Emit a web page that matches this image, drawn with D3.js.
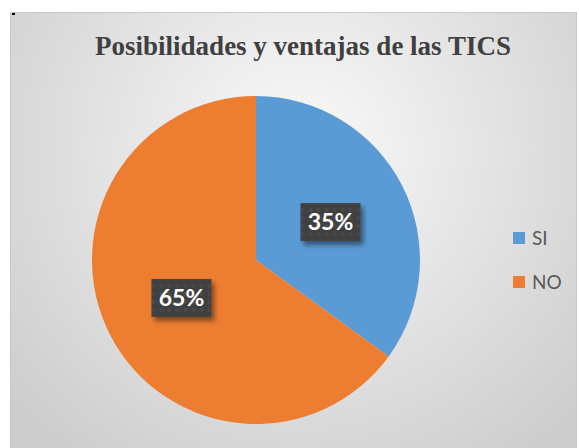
<!DOCTYPE html>
<html>
<head>
<meta charset="utf-8">
<script src="https://cdn.jsdelivr.net/npm/d3@7"></script>
<style>
  body { margin: 0; background: #fff; }
  svg { display: block; }
</style>
</head>
<body>
<div id="chart"></div>
<script>
// data
var categories = ["SI", "NO"];
var values = [35, 65];
var labels = ["35%", "65%"];
var colors = ["#5b9bd5", "#ed7d31"];
var title = "Posibilidades y ventajas de las TICS";

var W = 579, H = 448;
var cx = 256, cy = 260, R = 164;

var svg = d3.select("#chart").append("svg")
    .attr("width", W)
    .attr("height", H);

var defs = svg.append("defs");

// chart area background, light in middle, grey at edges
var grad = defs.append("radialGradient")
    .attr("id", "bg")
    .attr("gradientUnits", "userSpaceOnUse")
    .attr("cx", 300).attr("cy", 150).attr("r", 380);
grad.append("stop").attr("offset", "0%").attr("stop-color", "#fafafa");
grad.append("stop").attr("offset", "45%").attr("stop-color", "#e6e6e6");
grad.append("stop").attr("offset", "100%").attr("stop-color", "#cdcdcd");

// dotted texture for the data label boxes
var pat = defs.append("pattern")
    .attr("id", "dots")
    .attr("patternUnits", "userSpaceOnUse")
    .attr("width", 8).attr("height", 8);
pat.append("rect").attr("width", 8).attr("height", 8).attr("fill", "#404040");
pat.append("circle").attr("cx", 4).attr("cy", 4).attr("r", 2).attr("fill", "#4b4b4b");

var shadow = defs.append("filter").attr("id", "shadow")
    .attr("x", "-30%").attr("y", "-30%").attr("width", "160%").attr("height", "170%");
shadow.append("feDropShadow")
    .attr("dx", 3).attr("dy", 4).attr("stdDeviation", 2.5)
    .attr("flood-color", "#000").attr("flood-opacity", 0.45);

svg.append("rect")
    .attr("x", 10.5).attr("y", 12.5)
    .attr("width", W - 13).attr("height", H - 10)
    .attr("fill", "url(#bg)")
    .attr("stroke", "#c8c8c8");

// tiny mark in the top-left corner
svg.append("rect").attr("x", 12).attr("y", 13).attr("width", 3).attr("height", 2).attr("fill", "#000");

svg.append("text")
    .attr("x", 303).attr("y", 55)
    .attr("text-anchor", "middle")
    .attr("font-family", "'Liberation Serif', 'DejaVu Serif', serif")
    .attr("font-weight", "bold")
    .attr("font-size", "27px")
    .attr("fill", "#404040")
    .text(title);

var pie = d3.pie().sort(null).value(function(d) { return d; });
var arcs = pie(values);
var arc = d3.arc().innerRadius(0).outerRadius(R);
var labelArc = d3.arc().innerRadius(R * 0.51).outerRadius(R * 0.51);

var g = svg.append("g").attr("transform", "translate(" + cx + "," + cy + ")");

g.selectAll("path.slice")
    .data(arcs)
    .enter().append("path")
    .attr("class", "slice")
    .attr("d", arc)
    .attr("fill", function(d, i) { return colors[i]; });

var lab = g.selectAll("g.lab")
    .data(arcs)
    .enter().append("g")
    .attr("class", "lab")
    .attr("transform", function(d) {
        var c = labelArc.centroid(d);
        return "translate(" + c[0] + "," + c[1] + ")";
    });

lab.append("rect")
    .attr("x", -30).attr("y", -19)
    .attr("width", 60).attr("height", 38)
    .attr("fill", "url(#dots)")
    .attr("filter", "url(#shadow)");

lab.append("text")
    .attr("text-anchor", "middle")
    .attr("dy", "0.36em")
    .attr("font-family", "Lato, 'Open Sans', sans-serif")
    .attr("font-weight", "bold")
    .attr("font-size", "23px")
    .attr("fill", "#fff")
    .text(function(d, i) { return labels[i]; });

// legend
var legend = svg.selectAll("g.legend")
    .data(categories)
    .enter().append("g")
    .attr("class", "legend")
    .attr("transform", function(d, i) { return "translate(513," + (232 + i * 44) + ")"; });

legend.append("rect")
    .attr("width", 12).attr("height", 12)
    .attr("fill", function(d, i) { return colors[i]; });

legend.append("text")
    .attr("x", 19).attr("y", 6)
    .attr("dy", "0.36em")
    .attr("font-family", "Lato, 'Open Sans', sans-serif")
    .attr("font-size", "19px")
    .attr("fill", "#595959")
    .text(String);
</script>
</body>
</html>
